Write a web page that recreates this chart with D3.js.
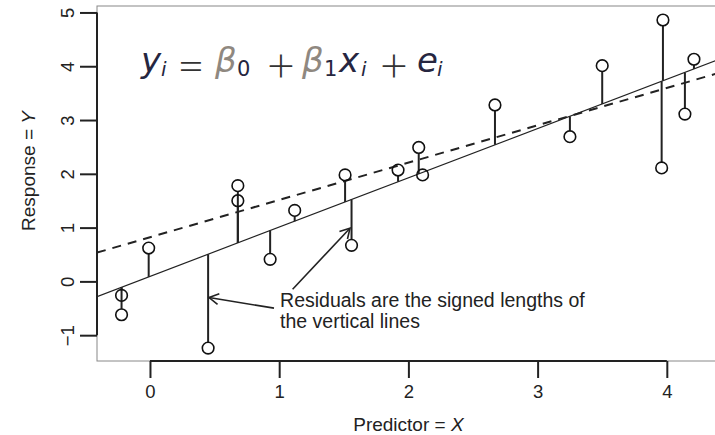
<!DOCTYPE html>
<html><head><meta charset="utf-8">
<script src="https://cdn.jsdelivr.net/npm/d3@7"></script>
<style>body{margin:0;background:#fff}svg{display:block}</style>
</head><body>
<script>
// Data
const xValues = [-0.22, -0.22, -0.01, 0.45, 0.68, 0.68, 0.93, 1.12, 1.51, 1.56, 1.92, 2.08, 2.11, 2.67, 3.25, 3.50, 3.97, 3.96, 4.14, 4.21];
const yValues = [-0.26, -0.62, 0.62, -1.24, 1.50, 1.78, 0.41, 1.32, 1.98, 0.67, 2.07, 2.49, 1.98, 3.28, 2.69, 4.01, 4.86, 2.11, 3.11, 4.13];
const fitLine = [0.093, 0.916];    // solid: intercept, slope
const trueLine = [0.82, 0.694];    // dashed: intercept, slope
const xTicks = [0, 1, 2, 3, 4];
const yTicks = [-1, 0, 1, 2, 3, 4, 5];
const xLimits = [-0.41, 4.40];
const yLimits = [-1.48, 5.12];
const arrows = [ // [tailX, tailY, tipX, tipY]
  [0.960, -0.497, 0.457, -0.30],
  [1.104, -0.145, 1.548, 0.988]
];
const noteLines = ["Residuals are the signed lengths of", "the vertical lines"];
const noteAt = [1.007, -0.47];
// formula tokens: text, kind (v = variable, s = subscript, o = operator, g = greek), offset
const formulaTokens = [
  ["y", "v", 0], ["i", "si", 20], ["=", "o", 36],
  ["\u03b2", "g", 74], ["0", "s", 96], ["+", "o", 126],
  ["\u03b2", "g", 161], ["1", "s", 183], ["x", "v", 198], ["i", "si", 220], ["+", "o", 239],
  ["e", "v", 276], ["i", "si", 296]
];

const W = 715, H = 435;
const svg = d3.select("body").append("svg").attr("width", W).attr("height", H);
const x = d3.scaleLinear().domain(xLimits).range([97, 718.5]);
const y = d3.scaleLinear().domain(yLimits).range([361, 6]);
const font = "'Liberation Sans', Arial, sans-serif";

// box
svg.append("rect").attr("x", x(xLimits[0])).attr("y", y(yLimits[1]))
  .attr("width", x(xLimits[1]) - x(xLimits[0])).attr("height", y(yLimits[0]) - y(yLimits[1]))
  .attr("fill", "none").attr("stroke", "#888").attr("stroke-width", 1);

// axes
const xAxis = d3.axisBottom(x).tickValues(xTicks).tickSize(17).tickPadding(7).tickFormat(d3.format("d"));
const gx = svg.append("g").attr("transform", `translate(0,${y(yLimits[0])})`).call(xAxis);
gx.select(".domain").attr("d", `M${x(xTicks[0])},0H${x(xTicks[xTicks.length-1])}`)
  .attr("stroke", "#222").attr("stroke-width", 2);
gx.selectAll(".tick line").attr("stroke", "#222").attr("stroke-width", 2);
gx.selectAll(".tick text").attr("font-family", font).attr("font-size", 18.5).attr("fill", "#222");

const yAxis = d3.axisLeft(y).tickValues(yTicks).tickSize(17).tickPadding(6)
  .tickFormat(d => d < 0 ? "\u2212" + Math.abs(d) : d);
const gy = svg.append("g").attr("transform", `translate(${x(xLimits[0])},0)`).call(yAxis);
gy.select(".domain").attr("d", `M0,${y(yTicks[0])}V${y(yTicks[yTicks.length-1])}`)
  .attr("stroke", "#222").attr("stroke-width", 2);
gy.selectAll(".tick line").attr("stroke", "#222").attr("stroke-width", 2);
gy.selectAll(".tick text").attr("font-family", font).attr("font-size", 18.5).attr("fill", "#222")
  .attr("text-anchor", "middle").attr("dy", 0)
  .attr("transform", "translate(-30,0) rotate(-90)").attr("x", 0).attr("y", 7);

// axis titles
const xt = svg.append("text").attr("x", (x(0) + x(4)) / 2 + 0).attr("y", 431)
  .attr("text-anchor", "middle").attr("font-family", font).attr("font-size", 19).attr("fill", "#222");
xt.append("tspan").text("Predictor = ");
xt.append("tspan").attr("font-style", "italic").text("X");
const yt = svg.append("text").attr("transform", `translate(35,171) rotate(-90)`)
  .attr("text-anchor", "middle").attr("font-family", font).attr("font-size", 19).attr("fill", "#222");
yt.append("tspan").text("Response = ");
yt.append("tspan").attr("font-style", "italic").text("Y");

// clip
svg.append("clipPath").attr("id", "clip").append("rect")
  .attr("x", x(xLimits[0])).attr("y", y(yLimits[1]))
  .attr("width", x(xLimits[1]) - x(xLimits[0])).attr("height", y(yLimits[0]) - y(yLimits[1]));
const plot = svg.append("g").attr("clip-path", "url(#clip)");

// lines
const lineFn = c => v => c[0] + c[1] * v;
const fit = lineFn(fitLine), tru = lineFn(trueLine);
plot.append("line").attr("x1", x(xLimits[0])).attr("x2", x(xLimits[1]))
  .attr("y1", y(fit(xLimits[0]))).attr("y2", y(fit(xLimits[1])))
  .attr("stroke", "#222").attr("stroke-width", 1.2);
plot.append("line").attr("x1", x(xLimits[0])).attr("x2", x(xLimits[1]))
  .attr("y1", y(tru(xLimits[0]))).attr("y2", y(tru(xLimits[1])))
  .attr("stroke", "#222").attr("stroke-width", 2).attr("stroke-dasharray", "9,7");

// residual segments
const R = 5.8;
const pts = xValues.map((v, i) => ({ x: v, y: yValues[i] }));
plot.selectAll("line.res").data(pts).enter().append("line").attr("class", "res")
  .each(function (d) {
    const px = x(d.x), py = y(d.y), ly = y(fit(d.x));
    const dir = ly > py ? 1 : -1;
    d3.select(this).attr("x1", px).attr("x2", px).attr("y1", py + dir * R).attr("y2", ly)
      .attr("display", Math.abs(ly - py) <= R ? "none" : null);
  })
  .attr("stroke", "#222").attr("stroke-width", 2);

plot.selectAll("circle").data(pts).enter().append("circle")
  .attr("cx", d => x(d.x)).attr("cy", d => y(d.y)).attr("r", R)
  .attr("fill", "none").attr("stroke", "#111").attr("stroke-width", 1.6);

// arrows
arrows.forEach(a => {
  const x1 = x(a[0]), y1 = y(a[1]), x2 = x(a[2]), y2 = y(a[3]);
  const ang = Math.atan2(y2 - y1, x2 - x1), L = 11, sp = Math.PI / 6;
  svg.append("line").attr("x1", x1).attr("y1", y1).attr("x2", x2).attr("y2", y2)
    .attr("stroke", "#222").attr("stroke-width", 1.6);
  svg.append("path")
    .attr("d", `M${x2 - L * Math.cos(ang - sp)},${y2 - L * Math.sin(ang - sp)}L${x2},${y2}L${x2 - L * Math.cos(ang + sp)},${y2 - L * Math.sin(ang + sp)}`)
    .attr("fill", "none").attr("stroke", "#222").attr("stroke-width", 1.6);
});

// note
const note = svg.append("text").attr("font-family", font).attr("font-size", 19.5).attr("fill", "#222");
noteLines.forEach((t, i) => note.append("tspan").attr("x", x(noteAt[0])).attr("y", y(noteAt[1]) + i * 21.6).text(t));

// formula
const fx = 141, fy = 72;
const fg = svg.append("g").attr("transform", `translate(${fx},${fy})`)
  .attr("font-family", "'DejaVu Sans', sans-serif");
formulaTokens.forEach(([t, k, off]) => {
  const el = fg.append("text").attr("x", off).text(t);
  if (k === "v") el.attr("font-size", 34).attr("font-style", "italic").attr("fill", "#262640");
  if (k === "g") el.attr("font-size", 34).attr("font-style", "italic").attr("fill", "#8f8880");
  if (k === "si") el.attr("font-size", 20).attr("font-style", "italic").attr("y", 4).attr("fill", "#262640");
  if (k === "s") el.attr("font-size", 21).attr("y", 4).attr("fill", "#262640");
  if (k === "o") el.attr("font-family", "Lato, 'DejaVu Sans', sans-serif").attr("font-weight", 300)
    .attr("font-size", 48).attr("y", 10).attr("fill", "#333");
});
</script>
</body></html>
